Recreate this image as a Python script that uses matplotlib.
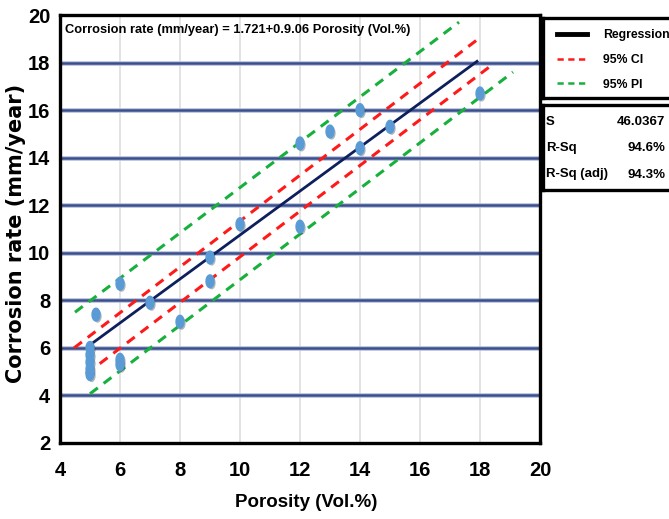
import numpy as np
import matplotlib
matplotlib.use("Agg")
import matplotlib.pyplot as plt
import matplotlib.patheffects as pe
from matplotlib.lines import Line2D
from matplotlib.path import Path

# data
porosity = [5, 5, 5, 5, 5, 5.2, 6, 6, 6, 7, 8, 9, 9, 10, 12, 12, 13, 14, 14, 15, 18]
corrosion = [6.0, 5.7, 5.4, 5.1, 4.9, 7.4, 8.7, 5.5, 5.3, 7.9, 7.1, 9.8, 8.8, 11.2,
             14.6, 11.1, 15.1, 16.0, 14.4, 15.3, 16.7]

reg_x = [4.93, 17.9]
reg_y = [6.06, 18.05]
ci_up_x = [4.47, 18.0]
ci_up_y = [6.0, 19.05]
ci_lo_x = [4.87, 18.4]
ci_lo_y = [4.9, 17.9]
pi_up_x = [4.5, 17.3]
pi_up_y = [7.5, 19.7]
pi_lo_x = [5.0, 19.1]
pi_lo_y = [4.07, 17.6]

stats_names = ["S", "R-Sq", "R-Sq (adj)"]
stats_vals = ["46.0367", "94.6%", "94.3%"]
legend_labels = ["Regression", "95% CI", "95% PI"]
equation = "Corrosion rate (mm/year) = 1.721+0.9.06 Porosity (Vol.%)"

narrow = ["Liberation Sans", "DejaVu Sans"]

navy = "#0d1f5c"
grid_navy = "#3a4f8c"
red = "#ff1a1a"
green = "#18b03c"
blue = "#5b9bd5"

fig = plt.figure(figsize=(6.69, 5.19), dpi=100)
W, H = 669, 519
ax = fig.add_axes([60 / W, 1 - 443 / H, 480 / W, 428 / H])

ax.set_xlim(4, 20)
ax.set_ylim(2, 20)
ax.set_xticks(np.arange(4, 21, 2))
ax.set_yticks(np.arange(2, 21, 2))

for xv in range(6, 20, 2):
    ax.axvline(xv, color="#dedede", lw=1.2, zorder=0)
for yv in range(4, 20, 2):
    ax.axhline(yv, color="#b8c2dc", lw=3.4, zorder=0)
    ax.axhline(yv, color=grid_navy, lw=1.8, zorder=0)

dash = (0, (3.2, 2.4))
ax.plot(ci_up_x, ci_up_y, color=red, lw=2.2, linestyle=dash, zorder=3)
ax.plot(ci_lo_x, ci_lo_y, color=red, lw=2.2, linestyle=dash, zorder=3)
ax.plot(pi_up_x, pi_up_y, color=green, lw=2.2, linestyle=dash, zorder=3)
ax.plot(pi_lo_x, pi_lo_y, color=green, lw=2.2, linestyle=dash, zorder=3)
ax.plot(reg_x, reg_y, color=navy, lw=2.0, zorder=4)

t = np.linspace(0, 2 * np.pi, 40)
ellipse = Path(np.column_stack([0.62 * np.cos(t), np.sin(t)]))
ax.scatter(porosity, corrosion, s=85, marker=ellipse, color=blue, zorder=5,
           path_effects=[pe.SimplePatchShadow(offset=(1.2, -1.2), alpha=0.35),
                         pe.Normal()])

for sp in ax.spines.values():
    sp.set_linewidth(2.4)
    sp.set_color("black")
ax.tick_params(length=0)
ax.tick_params(axis="y", pad=7)
ax.tick_params(axis="x", pad=13)
for lab in ax.get_xticklabels() + ax.get_yticklabels():
    lab.set_family(narrow)
    lab.set_fontweight("bold")
    lab.set_fontsize(14.5)

ax.set_xlabel("Porosity (Vol.%)", family=narrow, fontweight="bold", fontsize=13.5)
ax.xaxis.set_label_coords(0.5125, -0.119)
ax.set_ylabel("Corrosion rate (mm/year)", family="DejaVu Sans", fontweight="bold",
              fontsize=15)
ax.yaxis.set_label_coords(-0.07, 0.49)

ax.text(0.01, 0.965, equation, transform=ax.transAxes, family=narrow,
        fontweight="bold", fontsize=9.3, va="center", ha="left")

# legend box
ax_leg = fig.add_axes([543 / W, 1 - 98 / H, 135 / W, 80 / H])
ax_leg.set_xticks([])
ax_leg.set_yticks([])
for sp in ax_leg.spines.values():
    sp.set_linewidth(2.4)
handles = [Line2D([], [], color="black", lw=3.5),
           Line2D([], [], color=red, lw=1.8, linestyle=(0, (2.5, 1.8))),
           Line2D([], [], color=green, lw=1.8, linestyle=(0, (2.5, 1.8)))]
ax_leg.legend(handles, legend_labels, loc="upper left", bbox_to_anchor=(0.02, 1.0),
              frameon=False, handlelength=2.5, handletextpad=1.3, labelspacing=1.05,
              prop={"family": narrow, "weight": "bold", "size": 8.8})

# stats box
ax_st = fig.add_axes([543 / W, 1 - 190 / H, 135 / W, 85 / H])
ax_st.set_xticks([])
ax_st.set_yticks([])
ax_st.set_xlim(0, 135)
ax_st.set_ylim(85, 0)
for sp in ax_st.spines.values():
    sp.set_linewidth(2.4)
for i, (nm, val) in enumerate(zip(stats_names, stats_vals)):
    yy = 16.5 + i * 26.5
    ax_st.text(3, yy, nm, family=narrow, fontweight="bold", fontsize=9.5,
               va="center", ha="left")
    ax_st.text(122, yy, val, family=narrow, fontweight="bold", fontsize=9.5,
               va="center", ha="right")

fig.savefig("out.png", dpi=100)
